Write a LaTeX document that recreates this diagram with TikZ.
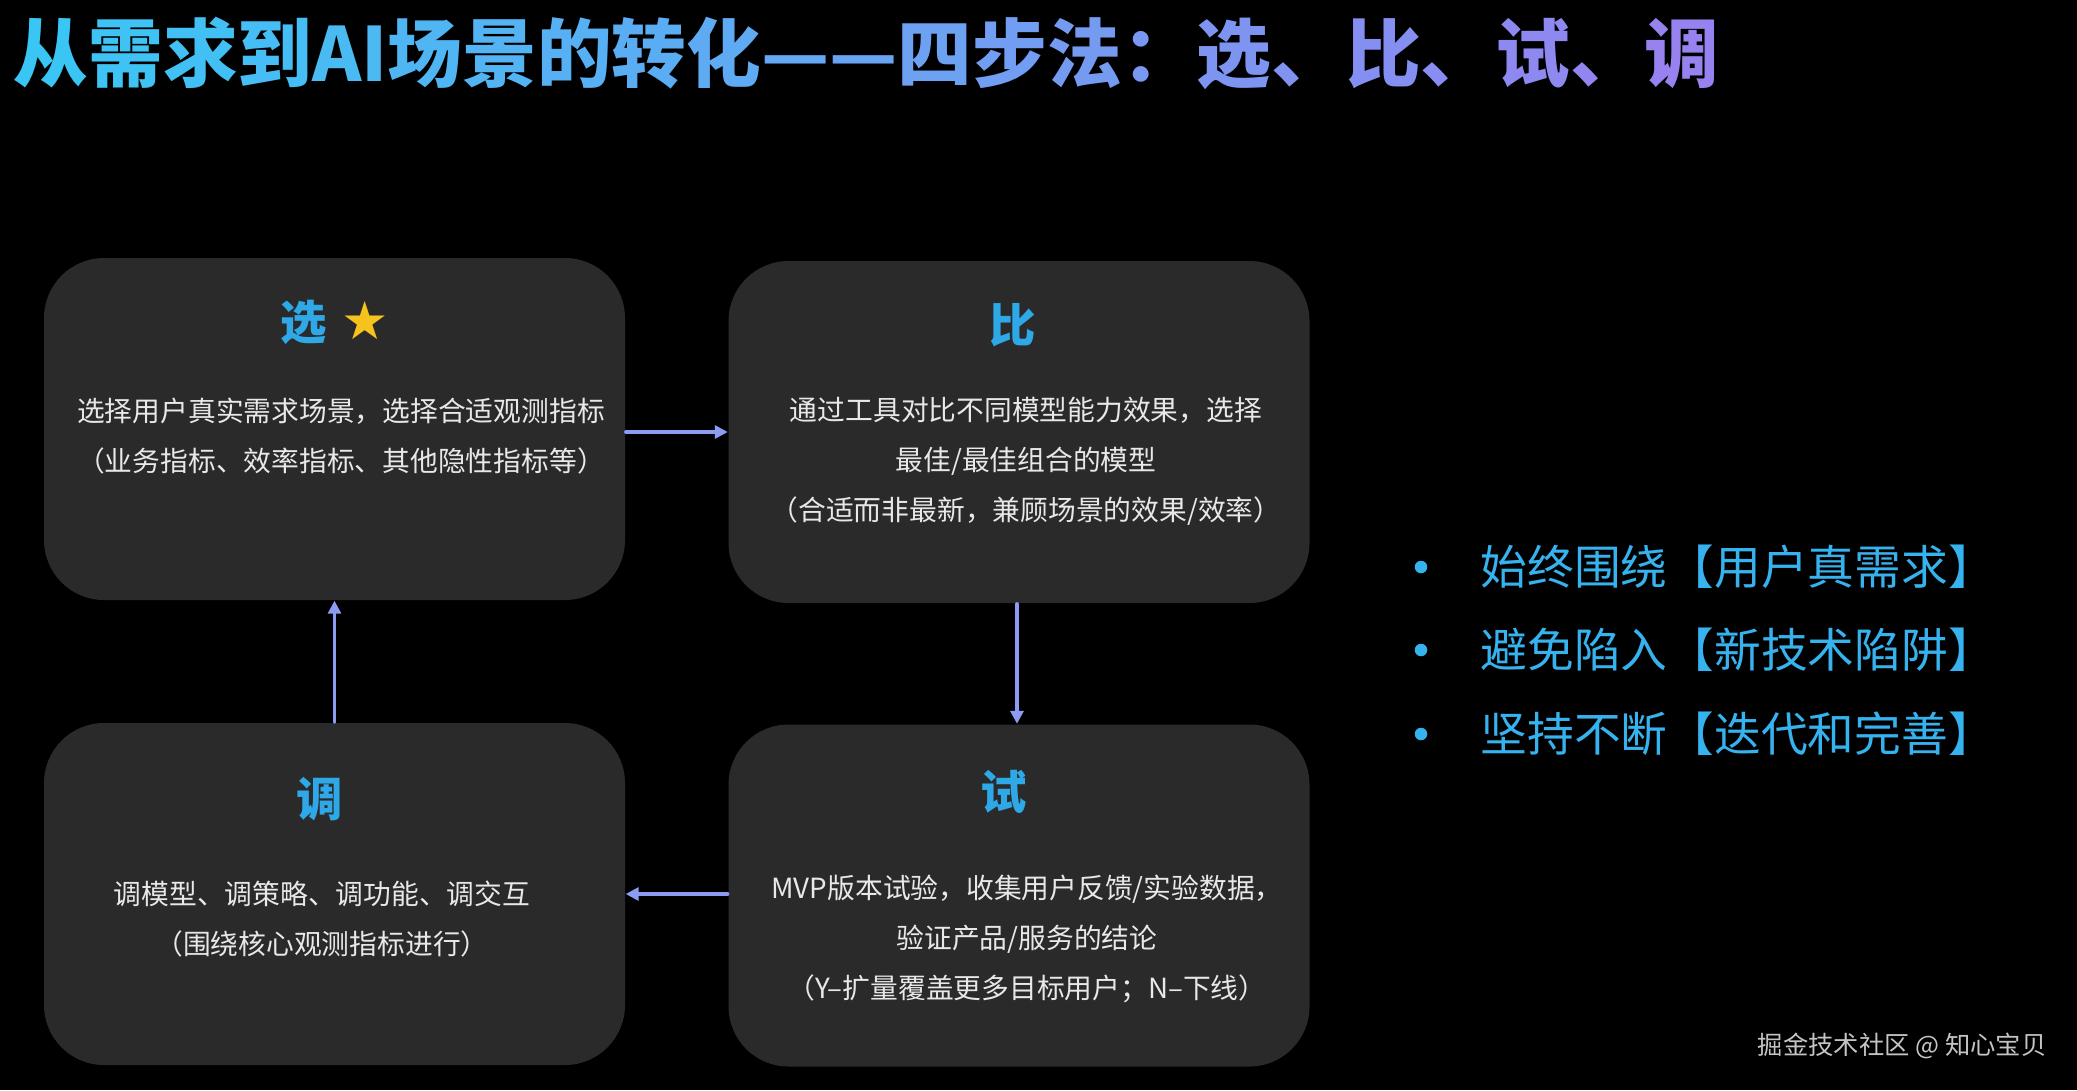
\documentclass[tikz,border=0pt]{standalone}
\usepackage{fontspec}
\setmainfont{Noto Sans CJK SC}
\newfontfamily\symfont{DejaVu Sans}
\usepackage{xcolor}
\usetikzlibrary{arrows.meta, positioning}
\definecolor{sfondo}{HTML}{000000}
\definecolor{riquadro}{HTML}{2A2A2A}
\definecolor{titoloA}{HTML}{3AC6F4}
\definecolor{titoloB}{HTML}{9C7EF0}
\definecolor{azzurro}{HTML}{2FA8E8}
\definecolor{elenco}{HTML}{36B2EE}
\definecolor{freccia}{HTML}{8C9CF2}
\definecolor{oro}{HTML}{F6C21C}
\definecolor{testo}{HTML}{E8E8E8}
\definecolor{firma}{HTML}{C4C4C4}
\newcommand\sfum[2]{\textcolor{titoloA!#1!titoloB}{#2}}

\begin{document}
\begin{tikzpicture}[
    line cap=round,
    line join=round,
    riq/.style       = {fill=riquadro, rounded corners=0.6cm, minimum width=5.81cm, minimum height=3.42cm, inner sep=0pt},
    passo/.style     = {font=\fontsize{13.2}{16}\selectfont\bfseries, text=azzurro, inner sep=1pt},
    corpo/.style     = {font=\fontsize{7.9}{14.2}\selectfont, text=testo, align=center, inner sep=1pt},
    freccia/.style   = {draw=freccia, line width=0.9pt, -{Triangle[length=0.13cm,width=0.13cm]}},
    punto/.style     = {circle, fill=elenco, minimum size=0.125cm, inner sep=0pt},
    voce/.style      = {font=\fontsize{13.3}{16}\selectfont, text=elenco, anchor=west, inner sep=0pt}
]
\useasboundingbox (0,0) rectangle (20.77,-10.90);
\fill[sfondo] (0,0) rectangle (20.77,-10.90);

% ---- titolo ----
\node[anchor=west, inner sep=0pt, font=\fontsize{21.25}{24}\selectfont\bfseries] (titolo) at (0.13,-0.53)
    {\sfum{100}{从}\sfum{96}{需}\sfum{92}{求}\sfum{88}{到}\sfum{84}{A}\sfum{82}{I}\sfum{78}{场}\sfum{74}{景}\sfum{70}{的}\sfum{66}{转}\sfum{62}{化}\sfum{57}{—}\sfum{53}{—}\sfum{48}{四}\sfum{44}{步}\sfum{40}{法}\sfum{36}{：}\sfum{32}{选}\sfum{28}{、}\sfum{24}{比}\sfum{20}{、}\sfum{15}{试}\sfum{10}{、}\sfum{5}{调}};

% ---- i quattro riquadri ----
\node[riq] (sel) at (3.345,-4.29) {};
\node[riq] (cmp) at (10.19,-4.32) {};
\node[riq] (adj) at (3.345,-8.94) {};
\node[riq] (tst) at (10.19,-8.955) {};

% ---- 选 ----
\node[passo] (selT) at (3.345,-3.22) {选\hspace{0.3em}{\symfont\fontsize{15}{15}\selectfont\textcolor{oro}{★}}};
\node[corpo] (selB) at (3.41,-4.36) {选择用户真实需求场景，选择合适观测指标\\（业务指标、效率指标、其他隐性指标等）};

% ---- 比 ----
\node[passo] (cmpT) at (10.13,-3.25) {比};
\node[corpo] (cmpB) at (10.26,-4.61) {通过工具对比不同模型能力效果，选择\\最佳/最佳组合的模型\\（合适而非最新，兼顾场景的效果/效率）};

% ---- 试 ----
\node[passo] (tstT) at (10.04,-7.92) {试};
\node[corpo] (tstB) at (10.27,-9.39) {MVP版本试验，收集用户反馈/实验数据，\\验证产品/服务的结论\\（Y–扩量覆盖更多目标用户；N–下线）};

% ---- 调 ----
\node[passo] (adjT) at (3.20,-7.99) {调};
\node[corpo] (adjB) at (3.22,-9.19) {调模型、调策略、调功能、调交互\\（围绕核心观测指标进行）};

% ---- frecce del ciclo ----
\draw[freccia] (sel.east |- 0,-4.32) -- (cmp.west |- 0,-4.32);
\draw[freccia] (cmp.south -| 10.17,0) -- (tst.north -| 10.17,0);
\draw[freccia] (tst.west |- 0,-8.94) -- (adj.east);
\draw[freccia] (adj.north) -- (sel.south);

% ---- principi ----
\node[punto] (p1) at (14.21,-5.67) {};
\node[voce]  (v1) at (14.80,-5.67) {始终围绕【用户真需求】};
\node[punto] (p2) at (14.21,-6.50) {};
\node[voce]  (v2) at (14.80,-6.50) {避免陷入【新技术陷阱】};
\node[punto] (p3) at (14.21,-7.34) {};
\node[voce]  (v3) at (14.80,-7.34) {坚持不断【迭代和完善】};

% ---- firma ----
\node[anchor=east, inner sep=0pt, text=firma, font=\fontsize{7.2}{9}\selectfont] (firma) at (20.47,-10.46) {掘金技术社区 @ 知心宝贝};

\end{tikzpicture}
\end{document}
